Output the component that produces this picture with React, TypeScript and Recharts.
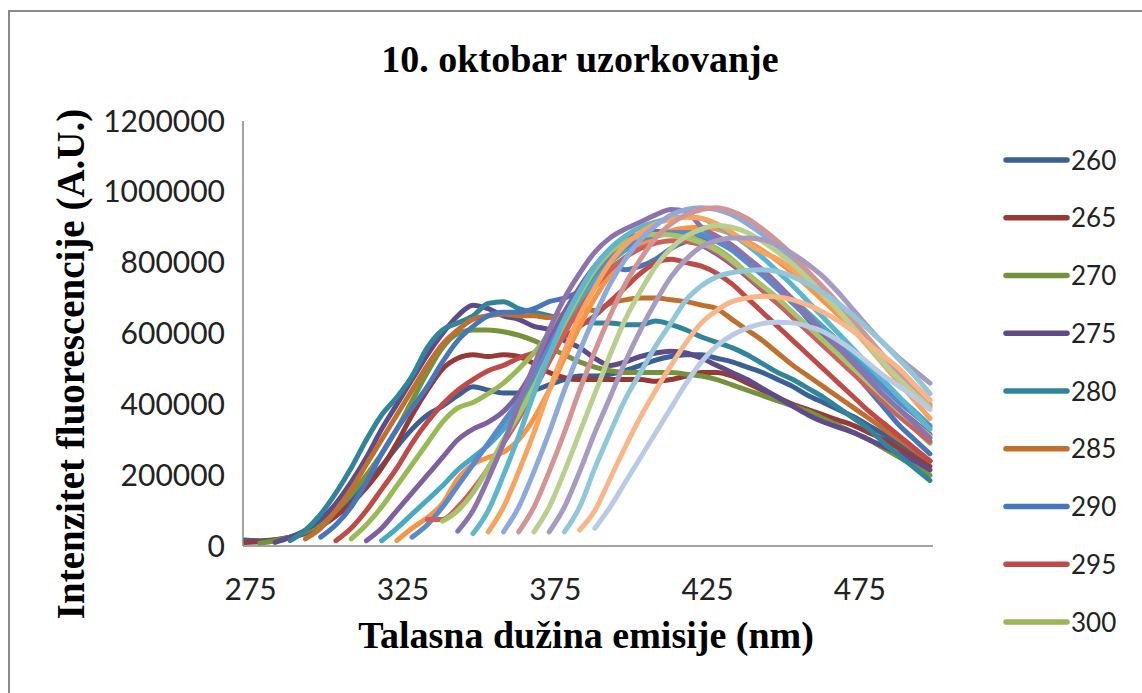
import { Line, LineChart, XAxis, YAxis } from "recharts";

// emission wavelengths (nm), one row per 5 nm
const emission = [
  273, 278, 283, 288, 293, 298, 303, 308, 313, 318, 323, 328, 333, 338, 343, 348, 353, 358, 363, 368, 373, 378, 383,
  388, 393, 398, 403, 408, 413, 418, 423, 428, 433, 438, 443, 448, 453, 458, 463, 468, 473, 478, 483, 488, 493, 498
];

// excitation wavelengths = series
const excitation = [
  260, 265, 270, 275, 280, 285, 290, 295, 300, 305, 310, 315, 320, 325, 330, 335, 340, 345, 350, 355, 360, 365, 370,
  375, 380
];

// first emission wavelength recorded for each series
const firstEmission = [
  273, 273, 278, 283, 288, 293, 298, 303, 308, 313, 318, 323, 328, 333, 338, 343, 348, 353, 358, 363, 368, 373, 378,
  383, 388
];

// intensities in thousands of A.U.
const i260 = [17, 15, 18, 25, 35, 55, 85, 130, 180, 225, 280, 330, 370, 395, 425, 450, 440, 432, 432, 440, 455, 470, 480, 480, 485, 495, 510, 525, 535, 540, 540, 530, 520, 505, 490, 470, 450, 425, 405, 385, 365, 340, 315, 290, 265, 240];
const i265 = [10, 12, 17, 25, 40, 60, 85, 120, 165, 220, 290, 370, 440, 500, 530, 540, 535, 540, 535, 515, 490, 475, 470, 470, 470, 470, 470, 465, 470, 480, 490, 490, 480, 460, 440, 420, 400, 385, 370, 355, 340, 320, 300, 275, 250, 225];
const i270 = [8, 15, 25, 40, 65, 100, 145, 200, 260, 330, 410, 490, 560, 600, 610, 610, 605, 595, 580, 560, 540, 520, 505, 495, 490, 490, 490, 490, 485, 480, 470, 455, 440, 425, 410, 395, 380, 360, 340, 320, 300, 275, 250, 225, 200];
const i275 = [10, 25, 45, 75, 120, 180, 250, 330, 400, 470, 540, 600, 650, 680, 670, 650, 640, 620, 610, 580, 560, 530, 510, 520, 535, 545, 550, 545, 530, 510, 490, 470, 445, 420, 395, 370, 350, 335, 320, 300, 280, 260, 240, 215];
const i280 = [15, 45, 90, 150, 220, 300, 370, 420, 480, 560, 610, 630, 650, 685, 690, 670, 660, 650, 640, 635, 630, 630, 625, 625, 635, 625, 610, 590, 575, 560, 540, 515, 490, 470, 445, 420, 390, 360, 330, 290, 255, 220, 185];
const i285 = [20, 50, 100, 160, 230, 300, 370, 440, 510, 570, 610, 640, 650, 655, 650, 650, 645, 655, 670, 665, 685, 695, 700, 700, 695, 690, 680, 670, 640, 610, 580, 545, 510, 480, 450, 420, 390, 360, 330, 300, 270, 240];
const i290 = [25, 60, 110, 180, 260, 330, 390, 450, 520, 580, 620, 650, 660, 660, 670, 690, 700, 720, 760, 790, 780, 790, 810, 840, 860, 870, 860, 840, 810, 770, 730, 690, 640, 590, 540, 490, 440, 390, 340, 300, 260];
const i295 = [15, 50, 100, 160, 220, 290, 350, 400, 440, 470, 495, 510, 530, 545, 560, 590, 620, 650, 690, 730, 770, 800, 810, 800, 790, 770, 740, 700, 660, 620, 580, 540, 500, 460, 420, 380, 345, 310, 275, 240];
const i300 = [20, 60, 110, 170, 230, 290, 350, 390, 405, 430, 460, 500, 545, 600, 660, 720, 770, 810, 840, 860, 875, 880, 875, 860, 840, 810, 770, 730, 690, 650, 610, 570, 530, 490, 450, 410, 370, 330, 290];
const i305 = [15, 50, 100, 150, 200, 250, 300, 330, 350, 380, 430, 500, 580, 660, 730, 790, 835, 865, 880, 888, 885, 870, 850, 825, 795, 760, 722, 685, 648, 610, 572, 535, 497, 460, 423, 385, 350, 315];
const i310 = [15, 50, 90, 130, 170, 215, 250, 285, 330, 390, 460, 540, 620, 690, 750, 800, 835, 860, 875, 885, 888, 882, 865, 840, 808, 772, 735, 697, 658, 618, 578, 538, 498, 458, 418, 380, 340];
const i315 = [15, 50, 80, 120, 190, 230, 250, 265, 300, 360, 440, 530, 620, 700, 765, 815, 850, 875, 890, 898, 900, 895, 880, 860, 835, 805, 770, 732, 692, 652, 612, 572, 532, 492, 452, 412];
const i320 = [25, 60, 110, 170, 230, 290, 350, 410, 480, 560, 640, 710, 770, 815, 845, 865, 878, 885, 885, 878, 860, 835, 800, 765, 725, 685, 645, 605, 565, 525, 485, 445, 405, 370, 335];
const i325 = [75, 75, 110, 160, 220, 290, 360, 440, 520, 600, 670, 730, 780, 815, 840, 855, 862, 860, 850, 830, 800, 765, 725, 685, 645, 605, 565, 525, 485, 445, 405, 365, 330, 295];
const i330 = [70, 100, 150, 220, 300, 370, 450, 540, 630, 710, 780, 830, 860, 875, 880, 878, 870, 855, 835, 805, 770, 735, 700, 660, 620, 580, 540, 500, 460, 420, 380, 345, 310];
const i335 = [42, 100, 190, 290, 400, 510, 610, 700, 770, 830, 870, 895, 915, 935, 950, 945, 900, 875, 850, 815, 780, 740, 695, 650, 605, 560, 515, 470, 425, 385, 345, 305];
const i340 = [35, 100, 200, 310, 430, 540, 640, 720, 790, 840, 875, 900, 915, 925, 930, 925, 905, 880, 850, 815, 775, 735, 690, 645, 600, 555, 510, 465, 420, 375, 330];
const i345 = [40, 110, 210, 320, 440, 550, 650, 730, 800, 850, 885, 910, 922, 928, 925, 910, 885, 855, 830, 810, 780, 745, 705, 660, 610, 560, 510, 460, 410, 360];
const i350 = [40, 110, 210, 320, 440, 550, 650, 740, 810, 865, 905, 935, 950, 955, 950, 935, 910, 880, 845, 805, 765, 720, 675, 625, 575, 530, 485, 440, 395];
const i355 = [40, 110, 210, 320, 440, 550, 650, 740, 810, 870, 910, 935, 950, 955, 945, 925, 895, 860, 820, 775, 730, 685, 635, 585, 535, 490, 445, 400];
const i360 = [40, 110, 210, 320, 430, 540, 640, 720, 790, 840, 875, 895, 905, 900, 885, 860, 830, 795, 755, 710, 665, 615, 565, 515, 470, 430, 390];
const i365 = [40, 110, 210, 320, 420, 520, 610, 690, 760, 810, 845, 862, 870, 870, 865, 850, 825, 795, 760, 715, 665, 615, 570, 530, 495, 460];
const i370 = [40, 110, 220, 320, 415, 490, 565, 630, 695, 735, 760, 772, 778, 780, 775, 760, 740, 715, 685, 650, 610, 570, 525, 480, 430];
const i375 = [45, 100, 190, 280, 365, 440, 510, 575, 630, 665, 690, 700, 705, 703, 695, 680, 660, 635, 605, 570, 535, 500, 455, 412];
const i380 = [50, 110, 180, 250, 320, 390, 460, 520, 565, 595, 615, 628, 632, 630, 620, 605, 580, 550, 515, 480, 450, 420, 385];

const intensities = [
  i260, i265, i270, i275, i280, i285, i290, i295, i300, i305, i310, i315, i320, i325, i330, i335, i340, i345, i350,
  i355, i360, i365, i370, i375, i380
];

const colors = [
  "#3A6096", "#963A37", "#77923C", "#5F4A8A", "#31859B", "#C0702E",
  "#4677BA", "#BE4B48", "#98B954", "#7D60A0", "#46AAC5", "#F69546",
  "#5A8ACB", "#CB615E", "#A6C46A", "#8D73AD", "#5DB6CE", "#F8A35F",
  "#8EAADB", "#D29593", "#B8CF8F", "#A89BC0", "#92C7DA", "#F9B68B", "#B9CAE5"
];

const xTicks = [275, 325, 375, 425, 475];
const yTicks = [0, 200, 400, 600, 800, 1000, 1200];
const legendCount = 9; // the legend box only has room for the first nine

const rows = emission.map((nm, k) => {
  const row: Record<string, number> = { nm };
  excitation.forEach((ex, s) => {
    const j = k - emission.indexOf(firstEmission[s]);
    const v = intensities[s][j];
    if (j >= 0 && v !== undefined) row[`ex${ex}`] = v;
  });
  return row;
});

const serif = "'Liberation Serif', 'Times New Roman', serif";
const sans = "Lato, 'Open Sans', sans-serif";

export default function App() {
  return (
    <>
      <div
        style={{
          position: "absolute",
          left: 8,
          top: 10,
          width: 1134,
          height: 683,
          borderTop: "2px solid #8a8a8a",
          borderLeft: "2px solid #8a8a8a",
          boxSizing: "border-box",
          overflow: "hidden",
          background: "#fff"
        }}
      >
        <LineChart width={1132} height={681} data={rows} margin={{ top: 109, right: 209, bottom: 87, left: 113 }}>
          <XAxis
            dataKey="nm"
            type="number"
            domain={[272.5, 499]}
            ticks={xTicks}
            allowDataOverflow
            height={60}
            tickLine={false}
            tickSize={0}
            tickMargin={33}
            axisLine={{ stroke: "#868686", strokeWidth: 1.5 }}
            tick={{ fill: "#222", fontSize: 30, fontFamily: sans }}
          />
          <YAxis
            type="number"
            domain={[0, 1200]}
            ticks={yTicks}
            width={120}
            tickLine={false}
            tickSize={0}
            tickMargin={18}
            tickFormatter={(v: number) => (v === 0 ? "0" : `${v}000`)}
            axisLine={{ stroke: "#868686", strokeWidth: 1.5 }}
            tick={{ fill: "#222", fontSize: 30, fontFamily: sans }}
          />
          {excitation.map((ex, s) => (
            <Line
              key={ex}
              dataKey={`ex${ex}`}
              name={String(ex)}
              type="monotone"
              stroke={colors[s]}
              strokeWidth={5}
              strokeLinecap="round"
              dot={false}
              activeDot={false}
              isAnimationActive={false}
            />
          ))}
        </LineChart>
      </div>

      <svg
        width={1142}
        height={693}
        style={{ position: "absolute", left: 0, top: 0, pointerEvents: "none" }}
      >
        <text x={580} y={72} textAnchor="middle" fontFamily={serif} fontWeight="bold" fontSize={38} fill="#000">
          10. oktobar uzorkovanje
        </text>
        <text x={586} y={648} textAnchor="middle" fontFamily={serif} fontWeight="bold" fontSize={38} fill="#000">
          Talasna dužina emisije (nm)
        </text>
        <text
          transform="translate(84,364) rotate(-90)"
          textAnchor="middle"
          fontFamily={serif}
          fontWeight="bold"
          fontSize={39}
          fill="#000"
        >
          Intenzitet fluorescencije (A.U.)
        </text>
        {excitation.slice(0, legendCount).map((ex, s) => {
          const y = 160 + s * 57.75;
          return (
            <g key={ex}>
              <line x1={1006} x2={1067} y1={y} y2={y} stroke={colors[s]} strokeWidth={5.5} strokeLinecap="round" />
              <text x={1071} y={y + 9.5} fontFamily={sans} fontSize={26} fill="#222">
                {ex}
              </text>
            </g>
          );
        })}
      </svg>
    </>
  );
}
